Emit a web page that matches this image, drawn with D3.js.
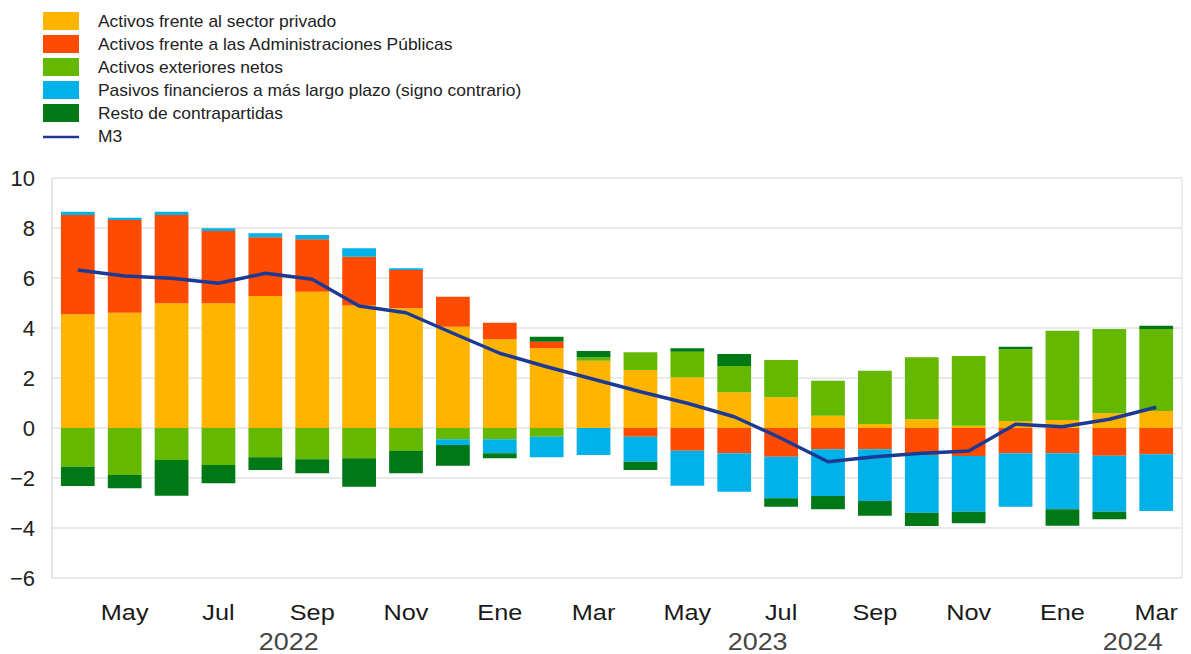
<!DOCTYPE html>
<html>
<head>
<meta charset="utf-8">
<script src="https://cdn.jsdelivr.net/npm/d3@7"></script>
<style>
  body { margin: 0; background: #fff; }
  svg { font-family: "Liberation Sans", Arial, sans-serif; }
</style>
</head>
<body>
<div id="chart"></div>
<script>
// months Apr 2022 .. Mar 2024
const months = ['Abr','May','Jun','Jul','Ago','Sep','Oct','Nov','Dic',
  'Ene','Feb','Mar','Abr','May','Jun','Jul','Ago','Sep','Oct','Nov','Dic',
  'Ene','Feb','Mar'];

const privado   = [4.55, 4.61, 4.99, 4.99, 5.28, 5.45, 4.90, 4.79, 4.05, 3.55, 3.19, 2.69, 2.32, 2.03, 1.43, 1.23, 0.49, 0.16, 0.35, 0.09, 0.28, 0.32, 0.59, 0.68];
const publicas  = [3.97, 3.71, 3.53, 2.89, 2.35, 2.10, 1.95, 1.53, 1.20, 0.66, 0.26, 0.00, -0.35, -0.91, -1.01, -1.15, -0.85, -0.85, -1.08, -1.12, -1.01, -1.01, -1.11, -1.05];
const exteriores = [-1.55, -1.88, -1.28, -1.48, -1.17, -1.25, -1.21, -0.92, -0.45, -0.45, -0.35, 0.14, 0.71, 1.02, 1.05, 1.49, 1.40, 2.13, 2.48, 2.79, 2.87, 3.57, 3.37, 3.28];
const pasivos   = [0.13, 0.09, 0.13, 0.11, 0.16, 0.17, 0.34, 0.07, -0.23, -0.56, -0.82, -1.08, -1.00, -1.40, -1.54, -1.66, -1.87, -2.07, -2.31, -2.23, -2.14, -2.24, -2.24, -2.27];
const resto     = [-0.77, -0.53, -1.43, -0.73, -0.51, -0.56, -1.14, -0.89, -0.83, -0.20, 0.20, 0.25, -0.33, 0.14, 0.48, -0.34, -0.53, -0.59, -0.53, -0.46, 0.10, -0.66, -0.30, 0.13];
const m3        = [6.32, 6.08, 5.99, 5.79, 6.19, 5.95, 4.88, 4.61, 3.79, 2.99, 2.45, 1.95, 1.45, 0.99, 0.45, -0.41, -1.35, -1.15, -1.01, -0.92, 0.15, 0.05, 0.35, 0.83];

const yTicks = [10, 8, 6, 4, 2, 0, -2, -4, -6];
const years = [{ label: '2022', after: 4 }, { label: '2023', after: 14 }, { label: '2024', after: 22 }];

const seriesNames = ['Activos frente al sector privado', 'Activos frente a las Administraciones Públicas',
  'Activos exteriores netos', 'Pasivos financieros a más largo plazo (signo contrario)', 'Resto de contrapartidas'];
const seriesKeys = ['privado', 'publicas', 'exteriores', 'pasivos', 'resto'];
const colors = ['#FFB400', '#FF4B00', '#65B800', '#00B1EA', '#007816'];
const m3Color = '#1C3A94';

const W = 1191, H = 654;
const margin = { left: 52, right: 9, top: 178, bottom: 76 };

const svg = d3.select('#chart').append('svg').attr('width', W).attr('height', H);

const rows = months.map((m, i) => ({
  i, privado: privado[i], publicas: publicas[i], exteriores: exteriores[i],
  pasivos: pasivos[i], resto: resto[i]
}));

const x = d3.scaleBand()
  .domain(d3.range(months.length))
  .range([margin.left, W - margin.right])
  .paddingInner(0.28)
  .paddingOuter(0.19);

const y = d3.scaleLinear().domain([-6, 10]).range([H - margin.bottom, margin.top]);

// grid
svg.append('g')
  .selectAll('line')
  .data(yTicks)
  .enter().append('line')
  .attr('x1', margin.left).attr('x2', W - margin.right)
  .attr('y1', d => y(d)).attr('y2', d => y(d))
  .attr('stroke', '#e3e3e3').attr('stroke-width', 1.5);

svg.append('line')
  .attr('x1', margin.left).attr('x2', margin.left)
  .attr('y1', y(10)).attr('y2', y(-6))
  .attr('stroke', '#dcdcdc').attr('stroke-width', 1.5);
svg.append('line')
  .attr('x1', W - margin.right).attr('x2', W - margin.right)
  .attr('y1', y(10)).attr('y2', y(-6))
  .attr('stroke', '#e8e8e8').attr('stroke-width', 1.5);

// y axis labels
const yAxis = svg.append('g')
  .attr('transform', `translate(${margin.left},0)`)
  .call(d3.axisLeft(y).tickValues(yTicks).tickSize(0).tickPadding(17).tickFormat(d3.format('d')));
yAxis.select('.domain').remove();
yAxis.selectAll('text')
  .style('font-size', '22px')
  .style('fill', '#222')
  .style('font-family', '"Liberation Sans", Arial, sans-serif');

// stacked bars
const stack = d3.stack().keys(seriesKeys).offset(d3.stackOffsetDiverging);
const layers = stack(rows);

svg.append('g')
  .selectAll('g')
  .data(layers)
  .enter().append('g')
  .attr('fill', (d, k) => colors[k])
  .selectAll('rect')
  .data(d => d)
  .enter().append('rect')
  .attr('x', d => x(d.data.i))
  .attr('width', x.bandwidth())
  .attr('y', d => y(Math.max(d[0], d[1])))
  .attr('height', d => Math.abs(y(d[0]) - y(d[1])));

// M3 line
const line = d3.line()
  .x((d, i) => x(i) + x.bandwidth() / 2)
  .y(d => y(d));

svg.append('path')
  .datum(m3)
  .attr('d', line)
  .attr('fill', 'none')
  .attr('stroke', m3Color)
  .attr('stroke-width', 3.4)
  .attr('stroke-linejoin', 'round');

// x axis labels (the original is slightly stretched horizontally)
const xAxis = svg.append('g')
  .attr('transform', `translate(0,${y(-6)})`)
  .call(d3.axisBottom(x)
    .tickValues(d3.range(months.length).filter(i => i % 2 === 1))
    .tickSize(0).tickPadding(26)
    .tickFormat(i => months[i]));
xAxis.select('.domain').remove();
xAxis.selectAll('text')
  .attr('transform', 'scale(1.15,1)')
  .style('font-size', '22px')
  .style('fill', '#1a1a1a')
  .style('font-family', '"Liberation Sans", Arial, sans-serif');

svg.append('g')
  .selectAll('text')
  .data(years)
  .enter().append('text')
  .attr('transform', d => `translate(${x(d.after) + x.bandwidth() / 2 + x.step() / 2},650) scale(1.17,1)`)
  .attr('text-anchor', 'middle')
  .style('font-size', '23px')
  .style('fill', '#444')
  .text(d => d.label);

// legend
const legend = svg.append('g').attr('transform', 'translate(43,12)');
const items = seriesNames.map((n, k) => ({ name: n, color: colors[k], type: 'rect' }))
  .concat([{ name: 'M3', color: m3Color, type: 'line' }]);

const li = legend.selectAll('g')
  .data(items)
  .enter().append('g')
  .attr('transform', (d, k) => `translate(0,${k * 23})`);

li.filter(d => d.type === 'rect').append('rect')
  .attr('width', 36).attr('height', 18)
  .attr('fill', d => d.color);
li.filter(d => d.type === 'line').append('line')
  .attr('x1', 0).attr('x2', 36).attr('y1', 10).attr('y2', 10)
  .attr('stroke', d => d.color).attr('stroke-width', 2.5);
li.append('text')
  .attr('transform', 'translate(55,15) scale(1.09,1)')
  .style('font-size', '16px')
  .style('fill', '#222')
  .text(d => d.name);
</script>
</body>
</html>
